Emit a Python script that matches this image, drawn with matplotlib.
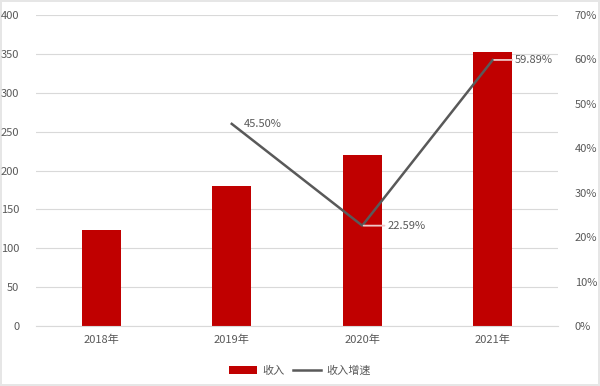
import matplotlib
matplotlib.use("Agg")
import matplotlib.pyplot as plt
from matplotlib.ticker import FuncFormatter

plt.rcParams['font.family'] = ['Noto Sans CJK SC', 'DejaVu Sans']

# ---------------- DATA ----------------
years = ["2018年", "2019年", "2020年", "2021年"]
revenue = [123.5, 180, 220.5, 352.6]
growth_years = ["2019年", "2020年", "2021年"]
growth = [45.50, 22.59, 59.89]

text_color = "#595959"
bar_color = "#C00000"
grid_color = "#D9D9D9"

fig = plt.figure(figsize=(6, 3.86), dpi=100)
fig.patch.set_edgecolor("#E6E6E6")
fig.patch.set_linewidth(1.5)
ax = fig.add_axes([0.06, 0.1554, 0.87, 0.8057])
ax2 = ax.twinx()

x = list(range(len(years)))
bars = ax.bar(x, revenue, width=0.3, color=bar_color, label="收入", zorder=2)

gx = [years.index(y) for y in growth_years]
line, = ax2.plot(gx, growth, color="#595959", linewidth=1.8, label="收入增速", zorder=3)

# labels: offset in points to the right of each point, leader line where on a bar
offsets = [9, 18, 16]
leaders = [False, True, True]
for xi, g, off, lead in zip(gx, growth, offsets, leaders):
    props = None
    if lead:
        props = dict(arrowstyle="-", color="#F0C8C8", linewidth=1.3,
                     shrinkA=0, shrinkB=1)
    ax2.annotate(f"{g:.2f}%", (xi, g), xytext=(off, 0),
                 textcoords="offset points", fontsize=8, color=text_color,
                 va="center", ha="left", arrowprops=props, zorder=4)

ax.set_xlim(-0.5, 3.5)
ax.set_ylim(0, 400)
ax.set_yticks(range(0, 401, 50))
ax2.set_ylim(0, 70)
ax2.set_yticks(range(0, 71, 10))
ax2.yaxis.set_major_formatter(FuncFormatter(lambda v, p: f"{v:.0f}%"))
ax.set_xticks(x)
ax.set_xticklabels(years)

ax.grid(axis="y", color=grid_color, linewidth=0.8, zorder=0)
ax.set_axisbelow(True)
for a in (ax, ax2):
    for s in a.spines.values():
        s.set_visible(False)
    a.tick_params(length=0, labelsize=8, colors=text_color)
ax.tick_params(axis="y", pad=12)
ax2.tick_params(axis="y", pad=12)
ax.tick_params(axis="x", pad=6)
ax.spines["bottom"].set_visible(True)
ax.spines["bottom"].set_color(grid_color)

fig.legend([bars, line], ["收入", "收入增速"], loc="lower center",
           bbox_to_anchor=(0.5, 0.0), ncol=2, frameon=False, fontsize=8,
           labelcolor=text_color, handlelength=2.5, columnspacing=0.8,
           handletextpad=0.5)

fig.savefig("out.png", dpi=100, edgecolor=fig.get_edgecolor())
